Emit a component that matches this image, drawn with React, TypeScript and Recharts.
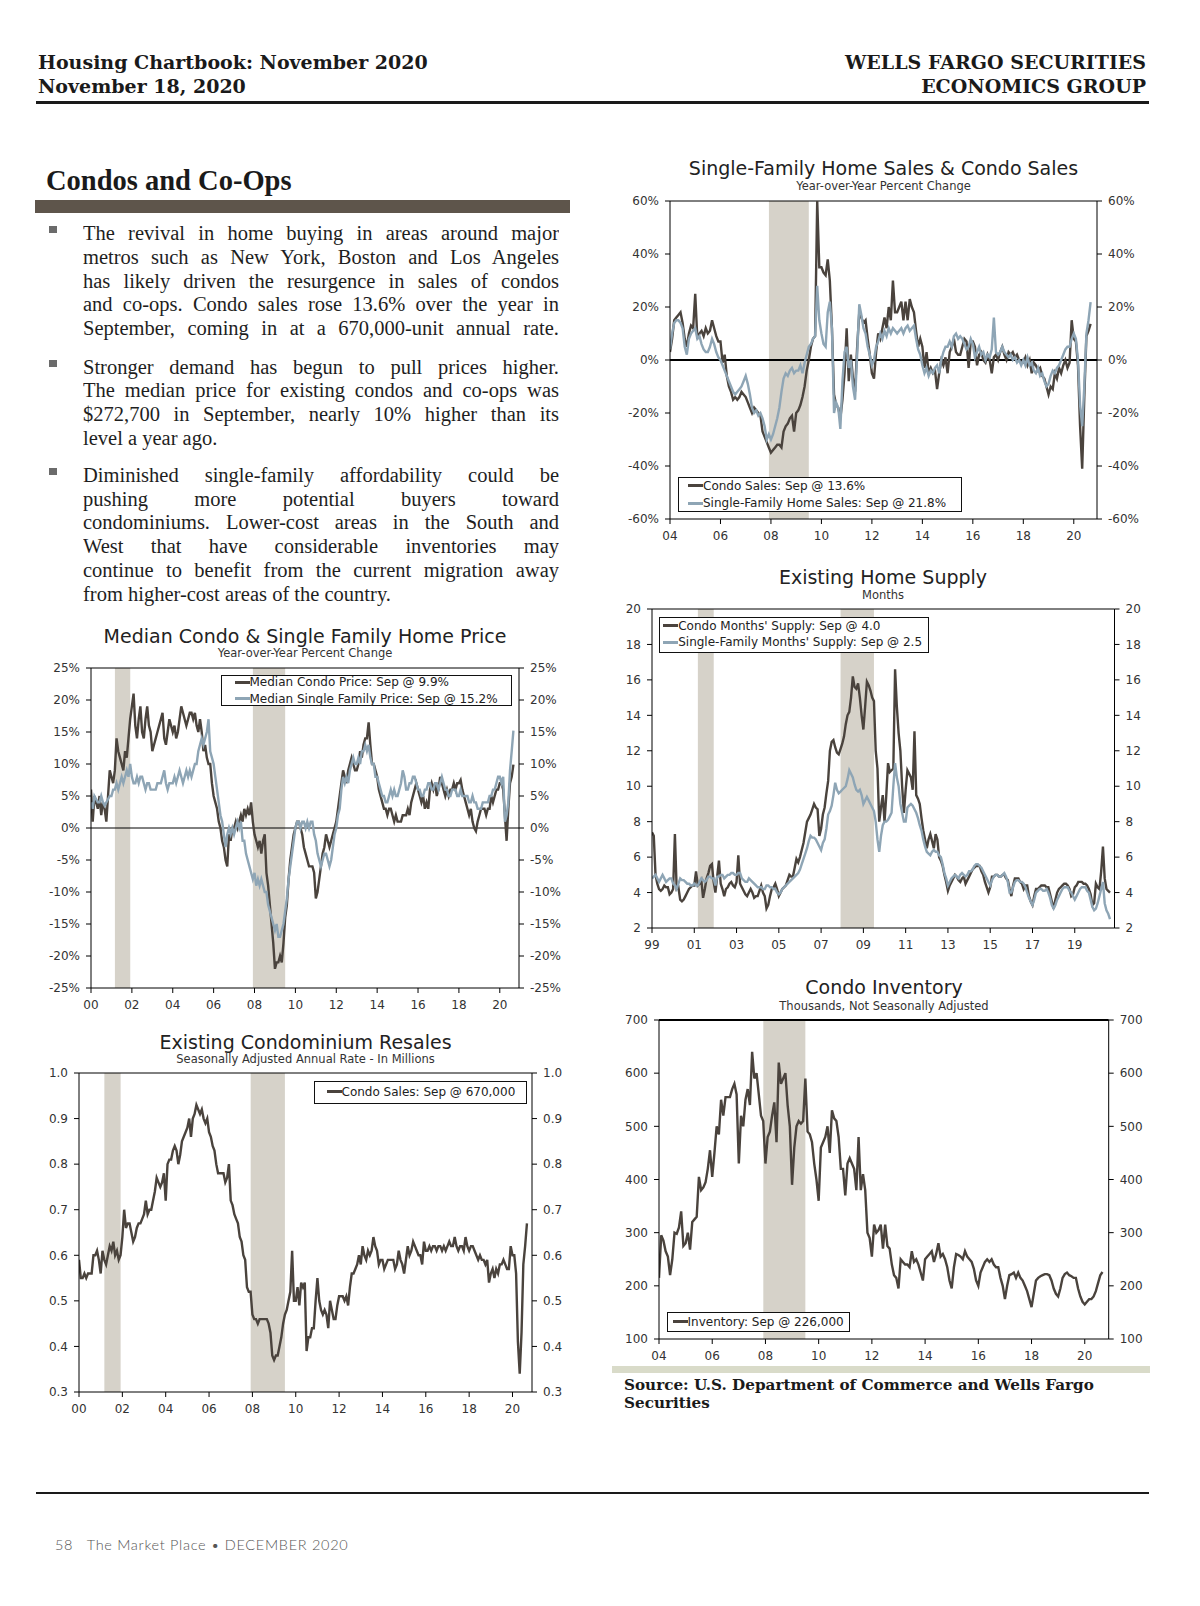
import React from 'react'
import { LineChart, Line, XAxis, YAxis, ReferenceArea, ReferenceLine } from 'recharts'

// ---- data (monthly) ----

// Single-family home sales & condo sales, y/y %, Jan 2004 - Sep 2020
const condoSalesYoY = [
  3, 8, 15, 16, 17, 18, 14, 8, 5, 10, 13, 12, // 2004
  25, 8, 10, 11, 9, 12, 10, 11, 15, 12, 9, 7, // 2005
  7, -1, 2, -6, -10, -12, -15, -14, -15, -14, -12, -13, // 2006
  -14, -16, -18, -20, -18, -19, -20, -21, -27, -29, -31, -33, // 2007
  -35, -34, -33, -32, -32, -33, -27, -25, -24, -22, -21, -27, // 2008
  -20, -19, -17, -14, -10, -4, 0, 5, 8, 9, 60, 35, // 2009
  35, 33, 32, 38, 30, 12, -13, -17, -18, -22, -15, -5, // 2010
  12, -8, 2, -7, -12, 5, 18, 16, 14, 15, 8, 2, // 2011
  -5, -7, 3, 10, 8, 12, 16, 12, 20, 15, 30, 18, // 2012
  18, 20, 22, 15, 22, 15, 23, 20, 18, 11, 5, 8, // 2013
  5, -3, 3, -5, -3, -5, -4, -11, -5, 0, -2, 1, // 2014
  -5, 3, 5, 8, 3, 2, 2, 5, 8, 7, -3, 7, // 2015
  7, 5, -2, 2, 3, 0, -1, 2, 0, -5, 1, 2, // 2016
  0, 3, 5, 2, 0, 3, 2, 3, 1, 2, 0, -1, // 2017
  -1, 1, -2, 0, -5, -1, -2, -4, -3, -6, -7, -10, // 2018
  -13, -10, -11, -5, -7, -3, -5, -2, 0, -3, -1, 15, // 2019
  8, 7, -2, -25, -41, -14, 9, 11, 13.6, // 2020
]
const singleSalesYoY = [
  4, 10, 14, 15, 15, 14, 12, 5, 2, 8, 10, 11, // 2004
  12, 8, 9, 6, 4, 3, 3, 5, 8, 6, 3, 1, // 2005
  0, -2, -4, -6, -8, -10, -12, -13, -12, -11, -10, -8, // 2006
  -6, -9, -13, -18, -20, -19, -21, -20, -22, -25, -30, -28, // 2007
  -30, -28, -25, -22, -18, -12, -7, -5, -6, -4, -3, -5, // 2008
  -4, -4, -2, -5, -1, 2, 5, 6, 8, 9, 28, 15, // 2009
  10, 6, 5, 18, 22, 12, -20, -16, -18, -26, -8, 3, // 2010
  5, -3, 0, -10, -15, 2, 21, 17, 12, 10, 5, 2, // 2011
  -2, 0, 5, 7, 10, 8, 11, 9, 12, 10, 12, 11, // 2012
  10, 11, 12, 10, 12, 13, 11, 12, 13, 8, 4, 2, // 2013
  -2, -5, -3, -6, -4, -5, -3, -2, -5, 0, 3, 5, // 2014
  5, 7, 5, 9, 10, 8, 9, 8, 6, 4, 5, 8, // 2015
  6, 1, 3, 5, 2, 3, 0, 2, 1, 4, 16, 3, // 2016
  2, 3, 5, 3, 2, 1, 2, 0, 1, -1, 0, -2, // 2017
  0, -2, 1, -2, -1, -4, -5, -3, -6, -5, -8, -10, // 2018
  -9, -6, -4, -5, -3, -2, 0, 2, 4, 5, 5, 8, // 2019
  10, 8, 0, -17, -25, -10, 10, 15, 21.8, // 2020
]

// Median condo & single-family price, y/y %, Jan 2000 - Sep 2020
const condoPriceYoY = [
  6, 1, 5, 4, 3, 5, 2, 4, 3, 1, 5, 9, // 2000
  8, 7, 9, 14, 12, 11, 10, 9, 12, 11, 14, 17, // 2001
  19, 21, 16, 14, 17, 19, 15, 14, 17, 19, 16, 15, // 2002
  12, 13, 14, 15, 16, 17, 18, 14, 13, 15, 17, 16, // 2003
  15, 16, 14, 15, 17, 19, 18, 17, 16, 17, 18, 18, // 2004
  17, 18, 16, 15, 17, 15, 12, 13, 11, 10, 10, 7, // 2005
  5, 4, 3, 1, 0, -2, -3, -5, -6, -1, -2, 0, // 2006
  0, 1, 0, 1, 2, 1, 3, 2, 3, 2, 4, 1, // 2007
  -1, -2, -3, -2, -4, -2, -1, -7, -9, -12, -15, -18, // 2008
  -22, -21, -21, -20, -21, -18, -14, -12, -8, -5, -3, -1, // 2009
  0, 1, 1, 0, -1, -3, -4, -5, -6, -6, -6, -7, // 2010
  -11, -10, -8, -6, -4, -3, -1, -2, -3, -2, -1, 0, // 2011
  1, 3, 5, 7, 9, 8, 7, 9, 10, 11, 10, 9, // 2012
  9, 10, 12, 11, 13, 14, 14, 16.5, 13, 10, 10, 9, // 2013
  8, 6, 5, 4, 3, 3, 2, 3, 3, 2, 1, 2, // 2014
  1, 1, 1, 2, 2, 2, 3, 2, 4, 5, 6, 7, // 2015
  6, 5, 4, 5, 3, 4, 3, 6, 7, 6, 7, 5, // 2016
  6, 8, 7, 6, 5, 6, 5, 6, 6, 7, 6, 7, // 2017
  7, 7.5, 6, 5, 4, 3, 2, 3, 1, 0, -0.5, 1, // 2018
  2, 3, 3, 3, 2, 3, 3, 5, 4, 5, 6, 6, // 2019
  7, 7, 6, 2, -2, 3, 7, 8, 9.9, // 2020
]
const singlePriceYoY = [
  4, 3, 5, 4.5, 4, 4, 5, 4, 3.5, 4, 4.5, 5, // 2000
  5, 6, 6, 7, 6, 7, 8, 7, 8, 9, 8, 10, // 2001
  8, 7, 7, 8, 7, 8, 8, 7, 6, 7, 7, 6, // 2002
  6, 6, 6, 7, 7, 7, 8, 9, 7, 6, 7, 7, // 2003
  7, 8, 7, 8, 9, 8, 7, 8, 9, 8, 9, 8, // 2004
  9, 10, 10, 12, 13, 14, 13, 14, 15, 17, 12, 11, // 2005
  10, 8, 6, 4, 2, 1, -1, -3, -1, 0, -1, 0, // 2006
  -1, 0, 1, 0, 1, -2, -2, -4, -5, -6, -7, -8, // 2007
  -7, -9, -8, -9, -8, -9, -10, -10, -12, -13, -14, -15, // 2008
  -16, -15, -17, -17, -16, -15, -13, -11, -8, -6, -4, -2, // 2009
  0, 1, 1, 0, 1, 1, 0, 1, 0, 1, 1, -1, // 2010
  -2, -4, -5, -6, -5, -4, -4, -5, -6, -5, -3, -1, // 2011
  0, 2, 3, 6, 8, 7, 8, 7, 9, 10, 11, 10, // 2012
  10, 11, 10, 12, 12, 13, 12, 13, 11, 10, 10, 8, // 2013
  8, 7, 6, 5, 5, 4, 4, 5, 6, 5, 6, 5, // 2014
  5, 6, 7, 9, 8, 6, 6, 7, 7, 8, 8, 7, // 2015
  6, 6, 5, 5, 6, 6, 7, 7, 6, 6, 7, 7, // 2016
  6, 7, 8, 7, 6, 6, 5, 5, 6, 6, 6, 5, // 2017
  5, 6, 5, 5, 5, 5, 4, 4, 5, 4, 4, 3, // 2018
  3, 3, 4, 4, 4, 4, 5, 5, 6, 6, 7, 8, // 2019
  8, 7, 8, 1, 2, 4, 9, 12, 15.2, // 2020
]

// Existing condo resales, SAAR millions, Jan 2000 - Sep 2020
const condoResales = [
  0.59, 0.55, 0.55, 0.56, 0.55, 0.56, 0.56, 0.56, 0.60, 0.60, 0.61, 0.59, // 2000
  0.56, 0.61, 0.59, 0.58, 0.60, 0.62, 0.61, 0.63, 0.60, 0.61, 0.59, 0.60, // 2001
  0.64, 0.70, 0.66, 0.67, 0.67, 0.65, 0.63, 0.64, 0.66, 0.67, 0.67, 0.68, // 2002
  0.69, 0.72, 0.69, 0.70, 0.70, 0.72, 0.74, 0.77, 0.76, 0.75, 0.76, 0.78, // 2003
  0.72, 0.80, 0.81, 0.81, 0.83, 0.84, 0.83, 0.80, 0.82, 0.85, 0.86, 0.87, // 2004
  0.88, 0.90, 0.86, 0.90, 0.91, 0.93, 0.92, 0.91, 0.92, 0.90, 0.89, 0.90, // 2005
  0.87, 0.86, 0.84, 0.83, 0.80, 0.78, 0.78, 0.78, 0.78, 0.76, 0.77, 0.80, // 2006
  0.72, 0.71, 0.69, 0.68, 0.67, 0.64, 0.63, 0.60, 0.59, 0.53, 0.52, 0.52, // 2007
  0.47, 0.46, 0.46, 0.45, 0.46, 0.46, 0.46, 0.46, 0.46, 0.45, 0.43, 0.38, // 2008
  0.37, 0.38, 0.38, 0.40, 0.42, 0.45, 0.47, 0.48, 0.50, 0.52, 0.61, 0.50, // 2009
  0.50, 0.53, 0.49, 0.54, 0.53, 0.54, 0.39, 0.42, 0.42, 0.44, 0.44, 0.50, // 2010
  0.55, 0.50, 0.48, 0.47, 0.48, 0.47, 0.44, 0.50, 0.48, 0.46, 0.46, 0.49, // 2011
  0.51, 0.51, 0.51, 0.50, 0.51, 0.49, 0.53, 0.56, 0.56, 0.57, 0.58, 0.60, // 2012
  0.58, 0.62, 0.60, 0.59, 0.61, 0.60, 0.61, 0.64, 0.62, 0.61, 0.58, 0.59, // 2013
  0.59, 0.57, 0.58, 0.59, 0.59, 0.59, 0.59, 0.57, 0.58, 0.61, 0.59, 0.58, // 2014
  0.56, 0.59, 0.62, 0.60, 0.61, 0.63, 0.62, 0.61, 0.60, 0.60, 0.58, 0.63, // 2015
  0.61, 0.61, 0.62, 0.61, 0.62, 0.62, 0.61, 0.62, 0.62, 0.61, 0.62, 0.61, // 2016
  0.62, 0.63, 0.62, 0.62, 0.64, 0.62, 0.61, 0.62, 0.62, 0.61, 0.64, 0.62, // 2017
  0.61, 0.62, 0.62, 0.61, 0.60, 0.59, 0.60, 0.59, 0.59, 0.58, 0.59, 0.54, // 2018
  0.56, 0.57, 0.55, 0.57, 0.56, 0.58, 0.58, 0.59, 0.58, 0.57, 0.57, 0.62, // 2019
  0.60, 0.60, 0.56, 0.41, 0.34, 0.43, 0.58, 0.62, 0.67, // 2020
]

// Existing home supply, months, Jan 1999 - Sep 2020
const condoSupply = [
  7.4, 7.2, 5.0, 4.5, 4.2, 4.1, 4.2, 4.4, 4.3, 4.3, 3.9, 4.0, // 1999
  4.2, 7.3, 4.2, 4.3, 3.6, 3.5, 3.6, 3.8, 4.0, 4.2, 4.3, 4.4, // 2000
  4.4, 5.2, 4.4, 4.5, 4.7, 3.7, 4.2, 4.8, 5.1, 5.5, 5.6, 4.6, // 2001
  4.0, 4.9, 5.8, 4.5, 4.2, 3.8, 4.2, 4.3, 4.5, 4.6, 4.4, 4.3, // 2002
  4.6, 6.1, 4.5, 4.3, 4.1, 3.9, 3.8, 4.0, 4.2, 4.0, 3.7, 3.8, // 2003
  3.8, 4.1, 4.4, 4.0, 3.8, 3.1, 3.3, 3.8, 4.2, 4.3, 4.5, 4.2, // 2004
  3.8, 4.0, 4.2, 4.3, 4.4, 4.7, 5.0, 4.9, 4.9, 5.4, 5.9, 5.7, // 2005
  6.0, 6.4, 6.8, 7.4, 8.0, 8.2, 8.4, 8.7, 9.0, 8.8, 8.7, 7.2, // 2006
  7.6, 8.4, 8.8, 9.6, 10.3, 12.0, 12.5, 12.6, 12.2, 11.9, 11.8, 12.1, // 2007
  12.4, 12.8, 13.5, 14.0, 14.2, 15.0, 16.2, 15.6, 15.5, 15.8, 15.0, 14.0, // 2008
  13.2, 14.5, 15.9, 15.7, 15.4, 15.0, 14.8, 12.0, 11.0, 8.0, 8.8, 9.5, // 2009
  8.0, 9.5, 11.3, 10.8, 10.9, 11.0, 16.6, 14.5, 13.0, 12.0, 10.0, 8.5, // 2010
  9.8, 10.9, 10.7, 10.5, 9.8, 13.1, 9.5, 9.3, 9.0, 8.2, 7.5, 7.0, // 2011
  6.5, 7.0, 7.3, 6.9, 6.5, 7.3, 7.0, 6.0, 5.8, 5.5, 5.0, 4.6, // 2012
  4.1, 4.4, 4.6, 4.8, 5.0, 4.9, 4.7, 4.6, 4.8, 4.9, 4.5, 4.7, // 2013
  4.9, 5.1, 5.3, 5.4, 5.5, 5.5, 5.5, 5.2, 5.0, 4.6, 4.3, 4.0, // 2014
  4.3, 4.9, 4.9, 5.0, 5.0, 4.9, 4.9, 5.0, 5.0, 4.8, 4.7, 4.2, // 2015
  3.8, 4.4, 4.8, 4.8, 4.8, 4.6, 4.5, 4.2, 4.4, 4.4, 3.8, 3.5, // 2016
  3.3, 3.8, 4.2, 4.2, 4.3, 4.4, 4.4, 4.4, 4.3, 4.3, 3.9, 3.5, // 2017
  3.1, 3.6, 4.0, 4.2, 4.3, 4.4, 4.5, 4.5, 4.4, 4.2, 3.8, 3.9, // 2018
  4.3, 4.4, 4.6, 4.6, 4.6, 4.5, 4.5, 4.4, 4.2, 3.9, 3.3, 3.4, // 2019
  4.5, 4.3, 4.2, 5.2, 6.6, 4.8, 4.2, 4.1, 4.0, // 2020
]
const singleSupply = [
  4.8, 4.9, 5.0, 4.8, 4.6, 4.8, 5.0, 4.8, 4.6, 4.7, 4.8, 4.8, // 1999
  4.5, 4.4, 4.2, 4.5, 4.8, 4.7, 4.7, 4.6, 4.5, 4.5, 4.4, 4.4, // 2000
  4.5, 4.4, 4.4, 4.6, 4.8, 4.7, 4.6, 4.7, 4.9, 4.9, 4.8, 4.8, // 2001
  4.4, 4.9, 4.9, 5.0, 5.0, 4.8, 4.9, 5.0, 5.0, 5.1, 5.1, 5.0, // 2002
  5.0, 5.1, 5.1, 4.8, 4.7, 4.6, 4.6, 4.8, 4.7, 4.6, 4.5, 4.4, // 2003
  4.3, 4.3, 4.3, 4.2, 4.2, 4.4, 4.4, 4.3, 4.3, 4.2, 4.2, 4.0, // 2004
  3.9, 4.0, 4.2, 4.3, 4.4, 4.5, 4.6, 4.7, 4.8, 4.9, 5.0, 5.1, // 2005
  5.3, 5.6, 5.9, 6.2, 6.5, 6.9, 7.2, 7.1, 7.1, 7.0, 6.8, 6.6, // 2006
  6.4, 6.8, 7.0, 7.6, 8.4, 8.6, 8.9, 9.5, 10.2, 9.8, 9.6, 9.7, // 2007
  9.8, 9.9, 10.0, 10.4, 10.9, 10.7, 10.5, 10.1, 9.8, 9.7, 9.8, 9.5, // 2008
  9.0, 9.2, 9.4, 9.2, 9.0, 8.8, 8.6, 8.0, 7.0, 6.3, 7.2, 7.8, // 2009
  8.0, 8.0, 8.1, 8.3, 8.5, 10.0, 11.3, 10.5, 10.0, 9.0, 8.5, 8.0, // 2010
  8.0, 8.8, 8.9, 9.0, 8.9, 8.7, 8.5, 8.2, 7.8, 7.5, 7.0, 6.6, // 2011
  6.3, 6.2, 6.1, 6.3, 6.4, 6.3, 6.3, 6.1, 6.0, 5.6, 5.1, 4.8, // 2012
  4.4, 4.6, 4.8, 4.9, 5.0, 4.9, 4.8, 5.0, 5.1, 5.0, 4.9, 5.0, // 2013
  5.2, 5.2, 5.3, 5.5, 5.6, 5.6, 5.5, 5.4, 5.2, 5.0, 4.8, 4.6, // 2014
  4.4, 4.7, 4.9, 5.0, 5.0, 4.9, 4.9, 5.0, 5.1, 4.9, 4.6, 4.0, // 2015
  4.0, 4.3, 4.6, 4.7, 4.7, 4.6, 4.6, 4.5, 4.3, 4.0, 3.7, 3.5, // 2016
  3.3, 3.6, 4.0, 4.1, 4.2, 4.2, 4.1, 4.1, 4.2, 4.0, 3.7, 3.3, // 2017
  3.1, 3.3, 3.6, 3.8, 4.0, 4.2, 4.3, 4.3, 4.3, 4.1, 4.0, 3.8, // 2018
  3.6, 3.8, 4.0, 4.2, 4.3, 4.3, 4.3, 4.1, 4.0, 3.6, 3.2, 3.0, // 2019
  3.1, 3.4, 3.8, 4.2, 4.6, 3.4, 3.0, 2.8, 2.5, // 2020
]

// Condo inventory, thousands NSA, Jan 2004 - Sep 2020
const condoInventory = [
  215, 295, 285, 265, 255, 220, 250, 300, 298, 310, 340, 275, // 2004
  280, 300, 268, 320, 325, 330, 405, 380, 385, 395, 420, 455, // 2005
  405, 450, 500, 485, 550, 520, 555, 555, 555, 570, 580, 560, // 2006
  430, 520, 500, 550, 570, 540, 640, 590, 600, 560, 520, 510, // 2007
  430, 480, 490, 520, 545, 470, 620, 580, 590, 600, 540, 500, // 2008
  390, 460, 500, 510, 505, 510, 590, 490, 485, 470, 430, 400, // 2009
  360, 460, 470, 480, 500, 450, 530, 515, 510, 480, 420, 420, // 2010
  370, 430, 440, 430, 420, 380, 480, 380, 410, 380, 300, 290, // 2011
  255, 315, 300, 305, 315, 270, 315, 275, 270, 240, 220, 215, // 2012
  195, 250, 245, 240, 240, 235, 265, 245, 250, 240, 225, 210, // 2013
  250, 255, 260, 265, 245, 260, 280, 255, 260, 250, 235, 210, // 2014
  195, 235, 260, 258, 255, 250, 265, 255, 250, 245, 232, 210, // 2015
  200, 225, 235, 245, 250, 245, 250, 240, 235, 235, 215, 200, // 2016
  175, 200, 220, 222, 225, 215, 225, 215, 210, 200, 190, 175, // 2017
  160, 185, 210, 215, 218, 220, 222, 222, 220, 210, 195, 185, // 2018
  180, 195, 215, 222, 225, 220, 218, 215, 215, 195, 180, 170, // 2019
  165, 170, 175, 175, 180, 190, 205, 220, 226, // 2020
]

const recessions: [number, number][] = [
  [2001.17, 2001.92],
  [2007.92, 2009.5],
]

// ---- styling ----
const CONDO = '#4a433d'
const SINGLE = '#8ea5b5'
const BAND = '#d6d2c9'
const SANS = '"DejaVu Sans", Verdana, sans-serif'
const SERIF = '"Liberation Serif", "Times New Roman", serif'
const SERIF_WIDE = '"DejaVu Serif", Georgia, serif'

const monthly = (start: number, series: Record<string, number[]>) => {
  const keys = Object.keys(series)
  const n = Math.max(...keys.map((k) => series[k].length))
  return Array.from({ length: n }, (_, i) => {
    const row: Record<string, number> = { t: start + i / 12 }
    keys.forEach((k) => {
      if (i < series[k].length) row[k] = series[k][i]
    })
    return row
  })
}

const range = (from: number, to: number, step: number) => {
  const out: number[] = []
  for (let v = from; v <= to + 1e-9; v += step) out.push(Math.round(v * 100) / 100)
  return out
}

const yy = (v: number) => String(Math.round(v) % 100).padStart(2, '0')

interface PanelProps {
  left: number
  top: number
  width: number
  height: number
  marginTop: number
  marginBottom: number
  yLeftWidth: number
  yRightWidth: number
  xDomain: [number, number]
  xTicks: number[]
  yDomain: [number, number]
  yTicks: number[]
  yFormat: (v: number) => string
  data: Record<string, number>[]
  series: { key: string; color: string }[]
  zero?: number
  frameWidth?: number
}

const Panel = (p: PanelProps) => {
  const tick = { fill: '#333', fontSize: 12, fontFamily: SANS }
  return (
    <div style={{ position: 'absolute', left: p.left, top: p.top }}>
      <LineChart
        width={p.width}
        height={p.height}
        data={p.data}
        margin={{ top: p.marginTop, right: 0, bottom: p.marginBottom, left: 0 }}
      >
        <XAxis
          dataKey="t"
          type="number"
          domain={p.xDomain}
          ticks={p.xTicks}
          tickFormatter={yy}
          allowDataOverflow
          height={25}
          tickSize={5}
          tickMargin={7}
          tick={tick}
          axisLine={{ stroke: '#000' }}
          tickLine={{ stroke: '#000' }}
        />
        <YAxis
          yAxisId="left"
          domain={p.yDomain}
          ticks={p.yTicks}
          tickFormatter={p.yFormat}
          allowDataOverflow
          width={p.yLeftWidth}
          tickSize={5}
          tickMargin={6}
          tick={tick}
          axisLine={{ stroke: '#000' }}
          tickLine={{ stroke: '#000' }}
        />
        <YAxis
          yAxisId="right"
          orientation="right"
          domain={p.yDomain}
          ticks={p.yTicks}
          tickFormatter={p.yFormat}
          allowDataOverflow
          width={p.yRightWidth}
          tickSize={5}
          tickMargin={6}
          tick={tick}
          axisLine={{ stroke: '#000' }}
          tickLine={{ stroke: '#000' }}
        />
        {recessions
          .filter(([a]) => a >= p.xDomain[0])
          .map(([a, b]) => (
            <ReferenceArea
              key={a}
              yAxisId="left"
              x1={a}
              x2={b}
              fill={BAND}
              fillOpacity={1}
              stroke="none"
            />
          ))}
        <ReferenceLine yAxisId="left" y={p.yDomain[1]} stroke="#000" strokeWidth={p.frameWidth ?? 1} />
        {p.zero !== undefined && (
          <ReferenceLine yAxisId="left" y={0} stroke="#000" strokeWidth={p.zero} />
        )}
        {p.series.map((s) => (
          <Line
            key={s.key}
            yAxisId="left"
            type="linear"
            dataKey={s.key}
            stroke={s.color}
            strokeWidth={2.4}
            dot={false}
            isAnimationActive={false}
          />
        ))}
      </LineChart>
    </div>
  )
}

const Heading = ({ cx, cy, cySub, title, subtitle }: { cx: number; cy: number; cySub: number; title: string; subtitle: string }) => (
  <>
    <div
      style={{
        position: 'absolute',
        left: cx - 300,
        width: 600,
        top: cy - 12,
        height: 24,
        lineHeight: '24px',
        textAlign: 'center',
        fontFamily: SANS,
        fontSize: 19,
        color: '#222',
        whiteSpace: 'nowrap',
      }}
    >
      {title}
    </div>
    <div
      style={{
        position: 'absolute',
        left: cx - 300,
        width: 600,
        top: cySub - 8,
        height: 16,
        lineHeight: '16px',
        textAlign: 'center',
        fontFamily: SANS,
        fontSize: 11.5,
        color: '#333',
        whiteSpace: 'nowrap',
      }}
    >
      {subtitle}
    </div>
  </>
)

interface LegendProps {
  left: number
  top: number
  width: number
  height: number
  rows: number[]
  swatch: number
  items: { label: string; color: string }[]
}

const LegendBox = ({ left, top, width, height, rows, swatch, items }: LegendProps) => (
  <div
    style={{
      position: 'absolute',
      left,
      top,
      width,
      height,
      border: '1.5px solid #111',
      boxSizing: 'border-box',
      background: '#fff',
    }}
  >
    {items.map((it, i) => (
      <div
        key={it.label}
        style={{
          position: 'absolute',
          left: swatch - 1.5,
          top: rows[i] - 8 - 1.5,
          height: 16,
          display: 'flex',
          alignItems: 'center',
          whiteSpace: 'nowrap',
          fontFamily: SANS,
          fontSize: 12,
          color: '#222',
        }}
      >
        <span style={{ display: 'inline-block', width: 15, height: 3, background: it.color }} />
        <span>{it.label}</span>
      </div>
    ))}
  </div>
)

const para1 = [
  'The revival in home buying in areas around major',
  'metros such as New York, Boston and Los Angeles',
  'has likely driven the resurgence in sales of condos',
  'and co-ops. Condo sales rose 13.6% over the year in',
  'September, coming in at a 670,000-unit annual rate.',
]
const para2 = [
  'Stronger demand has begun to pull prices higher.',
  'The median price for existing condos and co-ops was',
  '$272,700 in September, nearly 10% higher than its',
  'level a year ago.',
]
const para3 = [
  'Diminished single-family affordability could be',
  'pushing more potential buyers toward',
  'condominiums. Lower-cost areas in the South and',
  'West that have considerable inventories may',
  'continue to benefit from the current migration away',
  'from higher-cost areas of the country.',
]

const Paragraph = ({ lines, cy, lastJustified }: { lines: string[]; cy: number; lastJustified?: boolean }) => (
  <>
    <div style={{ position: 'absolute', left: 49, top: cy - 7, width: 8, height: 7, background: '#6b6b6b' }} />
    {lines.map((ln, i) => {
      const justify = i < lines.length - 1 || lastJustified
      return (
        <div
          key={i}
          style={{
            position: 'absolute',
            left: 83,
            width: 476,
            top: cy + i * 23.7 - 12,
            height: 24,
            lineHeight: '24px',
            overflow: 'hidden',
            fontFamily: SERIF,
            fontSize: 20.5,
            color: '#1e1e1e',
            textAlign: justify ? 'justify' : 'left',
            textAlignLast: justify ? 'justify' : 'left',
          }}
        >
          {ln}
        </div>
      )
    })}
  </>
)

export default function App() {
  const salesData = monthly(2004, { c: condoSalesYoY, s: singleSalesYoY })
  const priceData = monthly(2000, { c: condoPriceYoY, s: singlePriceYoY })
  const resaleData = monthly(2000, { c: condoResales })
  const supplyData = monthly(1999, { c: condoSupply, s: singleSupply })
  const invData = monthly(2004, { c: condoInventory })

  const pct = (v: number) => `${v}%`

  return (
    <div
      style={{
        position: 'absolute',
        left: 0,
        top: 0,
        width: 1200,
        height: 1606,
        background: '#fff',
        overflow: 'hidden',
      }}
    >
      {/* page header */}
      <div style={{ position: 'absolute', left: 38, top: 50, fontFamily: SERIF_WIDE, fontWeight: 700, fontSize: 19, lineHeight: '24px', color: '#1a1a1a', whiteSpace: 'nowrap' }}>
        <div>Housing Chartbook: November 2020</div>
        <div>November 18, 2020</div>
      </div>
      <div style={{ position: 'absolute', right: 1200 - 1146, top: 50, textAlign: 'right', fontFamily: SERIF_WIDE, fontWeight: 700, fontSize: 19, lineHeight: '24px', color: '#1a1a1a', whiteSpace: 'nowrap' }}>
        <div>WELLS FARGO SECURITIES</div>
        <div>ECONOMICS GROUP</div>
      </div>
      <div style={{ position: 'absolute', left: 36, top: 101, width: 1113, height: 2.5, background: '#1a1a1a' }} />

      {/* section heading and text */}
      <div style={{ position: 'absolute', left: 46, top: 164, fontFamily: SERIF, fontWeight: 700, fontSize: 28.5, lineHeight: '34px', color: '#1a1a1a', whiteSpace: 'nowrap' }}>
        Condos and Co-Ops
      </div>
      <div style={{ position: 'absolute', left: 35, top: 200, width: 535, height: 12.5, background: '#5e554b' }} />
      <Paragraph lines={para1} cy={233.3} lastJustified />
      <Paragraph lines={para2} cy={366.7} />
      <Paragraph lines={para3} cy={475} />

      {/* Chart 1 */}
      <Heading cx={883.5} cy={168.3} cySub={185.7} title="Single-Family Home Sales & Condo Sales" subtitle="Year-over-Year Percent Change" />
      <Panel
        left={600}
        top={190}
        width={570}
        height={360}
        marginTop={11}
        marginBottom={6}
        yLeftWidth={70}
        yRightWidth={73}
        xDomain={[2004, 2020.92]}
        xTicks={range(2004, 2020, 2)}
        yDomain={[-60, 60]}
        yTicks={range(-60, 60, 20)}
        yFormat={pct}
        data={salesData}
        series={[
          { key: 'c', color: CONDO },
          { key: 's', color: SINGLE },
        ]}
        zero={2}
      />
      <LegendBox
        left={678}
        top={477}
        width={284}
        height={35}
        rows={[9, 26.5]}
        swatch={10.5}
        items={[
          { label: 'Condo Sales: Sep @ 13.6%', color: CONDO },
          { label: 'Single-Family Home Sales: Sep @ 21.8%', color: SINGLE },
        ]}
      />

      {/* Chart 2 */}
      <Heading cx={305} cy={636} cySub={653.3} title="Median Condo & Single Family Home Price" subtitle="Year-over-Year Percent Change" />
      <Panel
        left={10}
        top={655}
        width={580}
        height={360}
        marginTop={13}
        marginBottom={2}
        yLeftWidth={81}
        yRightWidth={71}
        xDomain={[2000, 2020.94]}
        xTicks={range(2000, 2020, 2)}
        yDomain={[-25, 25]}
        yTicks={range(-25, 25, 5)}
        yFormat={pct}
        data={priceData}
        series={[
          { key: 'c', color: CONDO },
          { key: 's', color: SINGLE },
        ]}
        zero={1}
      />
      <LegendBox
        left={221}
        top={674.5}
        width={291}
        height={31.5}
        rows={[8, 24.5]}
        swatch={14}
        items={[
          { label: 'Median Condo Price: Sep @ 9.9%', color: CONDO },
          { label: 'Median Single Family Price: Sep @ 15.2%', color: SINGLE },
        ]}
      />

      {/* Chart 3 */}
      <Heading cx={305.5} cy={1041.7} cySub={1059} title="Existing Condominium Resales" subtitle="Seasonally Adjusted Annual Rate - In Millions" />
      <Panel
        left={10}
        top={1060}
        width={580}
        height={360}
        marginTop={13}
        marginBottom={3}
        yLeftWidth={69}
        yRightWidth={58}
        xDomain={[2000, 2020.9]}
        xTicks={range(2000, 2020, 2)}
        yDomain={[0.3, 1.0]}
        yTicks={range(0.3, 1.0, 0.1)}
        yFormat={(v) => v.toFixed(1)}
        data={resaleData}
        series={[{ key: 'c', color: CONDO }]}
      />
      <LegendBox
        left={314}
        top={1081}
        width={213}
        height={23}
        rows={[11.3]}
        swatch={13}
        items={[{ label: 'Condo Sales: Sep @ 670,000', color: CONDO }]}
      />

      {/* Chart 4 */}
      <Heading cx={883} cy={577.3} cySub={594.7} title="Existing Home Supply" subtitle="Months" />
      <Panel
        left={600}
        top={596}
        width={570}
        height={360}
        marginTop={13}
        marginBottom={3}
        yLeftWidth={52}
        yRightWidth={55.5}
        xDomain={[1999, 2020.88]}
        xTicks={range(1999, 2019, 2)}
        yDomain={[2, 20]}
        yTicks={range(2, 20, 2)}
        yFormat={(v) => String(v)}
        data={supplyData}
        series={[
          { key: 'c', color: CONDO },
          { key: 's', color: SINGLE },
        ]}
      />
      <LegendBox
        left={659}
        top={617}
        width={270}
        height={36}
        rows={[9, 25.6]}
        swatch={4.7}
        items={[
          { label: "Condo Months' Supply: Sep @ 4.0", color: CONDO },
          { label: "Single-Family Months' Supply: Sep @ 2.5", color: SINGLE },
        ]}
      />

      {/* Chart 5 */}
      <Heading cx={884} cy={987.3} cySub={1005.7} title="Condo Inventory" subtitle="Thousands, Not Seasonally Adjusted" />
      <Panel
        left={600}
        top={1007}
        width={570}
        height={360}
        marginTop={13}
        marginBottom={3}
        yLeftWidth={59}
        yRightWidth={61.3}
        xDomain={[2004, 2020.9]}
        xTicks={range(2004, 2020, 2)}
        yDomain={[100, 700]}
        yTicks={range(100, 700, 100)}
        yFormat={(v) => String(v)}
        data={invData}
        series={[{ key: 'c', color: CONDO }]}
        frameWidth={2}
      />
      <LegendBox
        left={667}
        top={1312}
        width={183}
        height={20}
        rows={[10.4]}
        swatch={6}
        items={[{ label: 'Inventory: Sep @ 226,000', color: CONDO }]}
      />

      {/* source */}
      <div style={{ position: 'absolute', left: 612, top: 1366, width: 538, height: 7, background: '#d9dbc9' }} />
      <div style={{ position: 'absolute', left: 624, top: 1376, width: 520, fontFamily: SERIF_WIDE, fontWeight: 700, fontSize: 15.2, lineHeight: '18px', color: '#1a1a1a', whiteSpace: 'nowrap' }}>
        Source: U.S. Department of Commerce and Wells Fargo
        <br />
        Securities
      </div>

      {/* footer */}
      <div style={{ position: 'absolute', left: 36, top: 1491.5, width: 1113, height: 2.5, background: '#1a1a1a' }} />
      <div style={{ position: 'absolute', left: 55, top: 1535, fontFamily: 'Lato, "Open Sans", sans-serif', fontWeight: 300, fontSize: 14.5, letterSpacing: 0.7, lineHeight: '20px', color: '#555', whiteSpace: 'pre' }}>
        {'58   The Market Place \u2022 DECEMBER 2020'}
      </div>
    </div>
  )
}
